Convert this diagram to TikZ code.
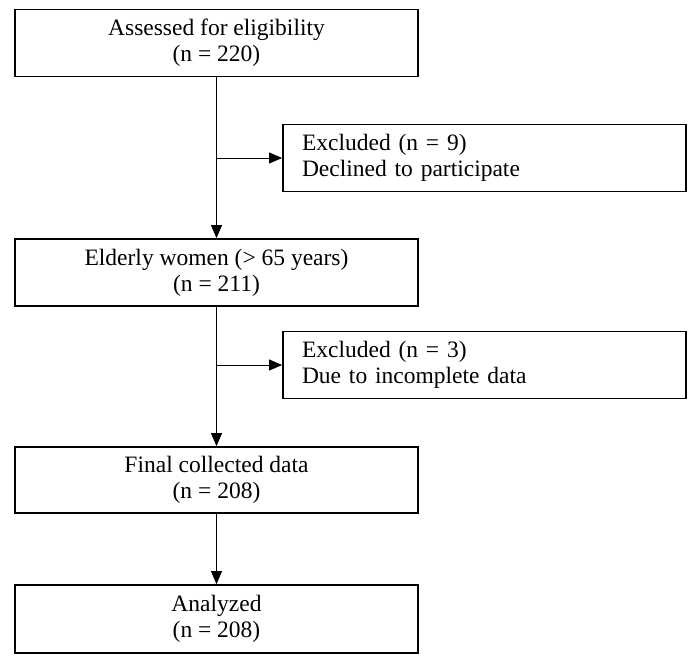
\documentclass[tikz,border=0pt]{standalone}
\usepackage{fontspec}
\setmainfont{Liberation Serif}
\usetikzlibrary{arrows.meta}
\begin{document}
\begin{tikzpicture}[x=1pt,y=-1pt,
  box/.style={draw, line width=1.8pt, minimum width=403pt, minimum height=67pt, inner sep=0pt, align=center, font=\fontsize{23.5}{26}\selectfont},
  sidebox/.style={box, align=left, text width=365pt},
  conn/.style={line width=0.9pt, -{Triangle[length=13pt,width=11pt]}}]
\useasboundingbox (0,0) rectangle (696,662);
\node[box] (b1) at (216.5,43) {Assessed for eligibility\\(n = 220)};
\node[sidebox] (r1) at (484.5,158) {Excluded (n = 9)\\Declined to participate};
\node[box] (b2) at (216.5,272.5) {Elderly women (> 65 years)\\(n = 211)};
\node[sidebox] (r2) at (484.5,365) {Excluded (n = 3)\\Due to incomplete data};
\node[box, minimum height=66pt] (b3) at (216.5,480) {Final collected data\\(n = 208)};
\node[box, minimum height=68pt] (b4) at (216.5,619) {Analyzed\\(n = 208)};
\coordinate (j1) at (b1.south |- r1.west);
\coordinate (j2) at (b2.south |- r2.west);
\draw[conn] (b1.south) -- (b2.north);
\draw[conn] (j1) -- (r1.west);
\draw[conn] (b2.south) -- (b3.north);
\draw[conn] (j2) -- (r2.west);
\draw[conn] (b3.south) -- (b4.north);
\end{tikzpicture}
\end{document}
